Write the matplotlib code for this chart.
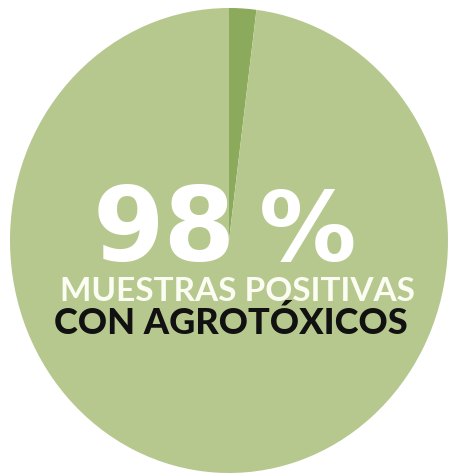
import matplotlib.pyplot as plt

# share of samples with / without pesticide residues
labels = ['Sin agrotóxicos', 'Con agrotóxicos']
shares = [2, 98]
colors = ['#8caa5c', '#b7c88f']

W, H = 449, 476

fig = plt.figure(figsize=(W / 100, H / 100), dpi=100)
fig.patch.set_facecolor('white')
ax = fig.add_axes([0, 0, 1, 1])

ax.pie(shares, colors=colors, startangle=90, counterclock=False,
       radius=1, center=(0, 0), wedgeprops={'linewidth': 0})

# stretch the pie slightly taller than wide
ax.set_aspect('auto')
ax.set_xlim(-229 / 219, (W - 229) / 219)
ax.set_ylim(-(H - 240.5) / 232.5, 240.5 / 232.5)
ax.axis('off')


def px(x, y):
    return x / W, 1 - y / H


fig.text(*px(236, 261), '98', color='white', fontsize=74,
         fontfamily='DejaVu Sans', fontweight='bold', ha='right', va='baseline')
fig.text(*px(259, 261), '%', color='white', fontsize=70,
         fontfamily='DejaVu Sans', fontweight='bold', ha='left', va='baseline')
fig.text(*px(238, 301), 'MUESTRAS POSITIVAS', color='#fbfdf2', fontsize=24,
         fontfamily='Lato', fontweight='bold', ha='center', va='baseline')
fig.text(*px(231, 334.5), 'CON AGROTÓXICOS', color='#111111', fontsize=26,
         fontfamily='Lato', fontweight='black', ha='center', va='baseline')

fig.savefig('out.png', dpi=100, facecolor='white')
